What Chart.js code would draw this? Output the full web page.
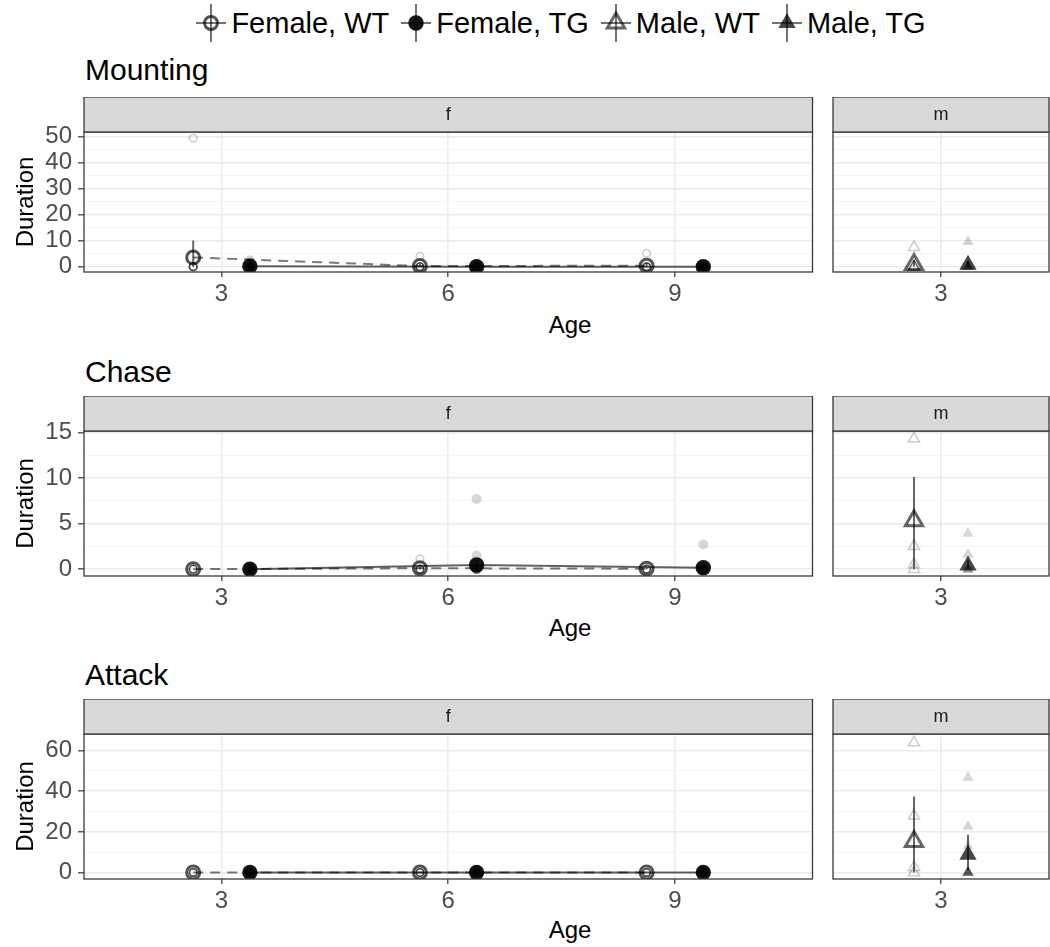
<!DOCTYPE html>
<html>
<head>
<meta charset="utf-8">
<title>Duration by age, sex and genotype</title>
<script src="https://cdn.jsdelivr.net/npm/chart.js@4.4.1/dist/chart.umd.min.js"></script>
<style>
  html, body { margin: 0; padding: 0; background: #ffffff; }
  #page { position: relative; width: 1050px; height: 947px; overflow: hidden;
          font-family: "Liberation Sans", Arial, Helvetica, sans-serif; }
  #page canvas { position: absolute; }
  .row-title { position: absolute; left: 85px; font-size: 30px; line-height: 30px; color: #000; white-space: nowrap; }
  .x-title { position: absolute; left: 84px; width: 972px; text-align: center; font-size: 24px; line-height: 24px; color: #000; }
  #legend { position: absolute; top: 5px; left: 0; width: 1122px; height: 36px; display: flex;
            justify-content: center; align-items: center; font-size: 29px; color: #000; white-space: nowrap; }
  .key { display: flex; align-items: center; margin: 0 6px; }
  .key svg { margin-right: 5px; }
</style>
</head>
<body>
<div id="page"><div id="legend"></div></div>
<script>
// ---------- data ----------
const ageTicks = [3, 6, 9];          // female facet ages (weeks)
const maleAgeTicks = [3];            // male facet ages
const seriesLabels = ['Female, WT', 'Female, TG', 'Male, WT', 'Male, TG'];
const behaviours = ['Mounting', 'Chase', 'Attack'];
const facetLabels = ['f', 'm'];

// Mounting
const mountingTicks = [0, 10, 20, 30, 40, 50];
const mountingMinor = [5, 15, 25, 35, 45];
const mountingRange = [-2.0, 51.8];
const mountingFemWT = [3.6, 0.3, 0.4];
const mountingFemWTLow = [0, 0, 0];
const mountingFemWTHigh = [10.1, 1.0, 1.3];
const mountingFemTG = [0.2, 0, 0];
const mountingFemTGLow = [0, 0, 0];
const mountingFemTGHigh = [0.8, 0, 0];
const mountingFemWTRaw = [[49.4, 0, 0, 0, 0, 0, 0], [4.0, 0, 0, 0, 0, 0, 0], [5.2, 0, 0, 0, 0, 0, 0]];
const mountingFemTGRaw = [[2.5, 0, 0, 0, 0, 0, 0], [0, 0, 0, 0, 0, 0], [0, 0, 0, 0, 0, 0]];
const mountingMaleWT = [0.9];
const mountingMaleWTLow = [0];
const mountingMaleWTHigh = [2.6];
const mountingMaleTG = [0.8];
const mountingMaleTGLow = [0];
const mountingMaleTGHigh = [2.2];
const mountingMaleWTRaw = [[7.5, 0, 0, 0, 0]];
const mountingMaleTGRaw = [[9.6, 0, 0, 0, 0]];

// Chase
const chaseTicks = [0, 5, 10, 15];
const chaseMinor = [2.5, 7.5, 12.5];
const chaseRange = [-0.75, 15.15];
const chaseFemWT = [0, 0.1, 0.05];
const chaseFemWTLow = [0, 0, 0];
const chaseFemWTHigh = [0, 0.3, 0.2];
const chaseFemTG = [0, 0.45, 0.15];
const chaseFemTGLow = [0, 0, 0];
const chaseFemTGHigh = [0, 1.0, 0.5];
const chaseFemWTRaw = [[0, 0, 0, 0, 0, 0], [1.1, 0, 0, 0, 0, 0], [0, 0, 0, 0, 0, 0]];
const chaseFemTGRaw = [[0, 0, 0, 0, 0, 0], [7.7, 1.5, 0, 0, 0, 0], [2.7, 0, 0, 0, 0, 0]];
const chaseMaleWT = [5.3];
const chaseMaleWTLow = [0];
const chaseMaleWTHigh = [10.1];
const chaseMaleTG = [0.4];
const chaseMaleTGLow = [0];
const chaseMaleTGHigh = [1.0];
const chaseMaleWTRaw = [[14.3, 2.5, 0.5, 0]];
const chaseMaleTGRaw = [[3.9, 1.6, 0, 0, 0]];

// Attack
const attackTicks = [0, 20, 40, 60];
const attackMinor = [10, 30, 50];
const attackRange = [-3.2, 68.2];
const attackFemWT = [0, 0, 0];
const attackFemWTLow = [0, 0, 0];
const attackFemWTHigh = [0, 0, 0];
const attackFemTG = [0, 0, 0];
const attackFemTGLow = [0, 0, 0];
const attackFemTGHigh = [0, 0, 0];
const attackFemWTRaw = [[0, 0, 0, 0, 0, 0], [0, 0, 0, 0, 0, 0], [0, 0, 0, 0, 0, 0]];
const attackFemTGRaw = [[0, 0, 0, 0, 0, 0], [0, 0, 0, 0, 0, 0], [0, 0, 0, 0, 0, 0]];
const attackMaleWT = [15.3];
const attackMaleWTLow = [0];
const attackMaleWTHigh = [37.4];
const attackMaleTG = [8.8];
const attackMaleTGLow = [1.0];
const attackMaleTGHigh = [18.6];
const attackMaleWTRaw = [[64, 27.9, 2.5, 0]];
const attackMaleTGRaw = [[46.8, 22.7, 13.1, 0, 0, 0, 0, 0, 0]];

// ---------- layout ----------
const FONT = '"Liberation Sans", Arial, Helvetica, sans-serif';
Chart.defaults.font.family = FONT;
Chart.defaults.color = '#4D4D4D';

const STRIP_H = 35, X_AXIS_H = 45, Y_AXIS_W = 84;
const F_RIGHT = 815, M_LEFT = 828, M_RIGHT = 1056;
const femaleXRange = [1.18, 10.82];
const maleXRange = [1.5, 4.5];
const DODGE = 0.375;

const rowLayout = [
  { stripTop: 97, panelBottom: 272, titleTop: 55, ageTop: 313 },
  { stripTop: 396, panelBottom: 576, titleTop: 357, ageTop: 616 },
  { stripTop: 699, panelBottom: 879, titleTop: 660, ageTop: 918 }
];

// marker looks for the four groups
const STYLE = {
  fWT: { shape: 'circle', r: 6.5, bw: 3, stroke: 'rgba(0,0,0,0.68)', fill: 'rgba(0,0,0,0)', line: 'rgba(0,0,0,0.52)', dash: [10, 7],
         rawR: 3.8, rawBw: 1.5, rawStroke: 'rgba(0,0,0,0.2)', rawFill: 'rgba(0,0,0,0)' },
  fTG: { shape: 'circle', r: 7.7, bw: 0, stroke: 'rgba(0,0,0,0)', fill: 'rgba(0,0,0,0.92)', line: 'rgba(0,0,0,0.62)', dash: [],
         rawR: 5, rawBw: 0, rawStroke: 'rgba(0,0,0,0)', rawFill: 'rgba(0,0,0,0.16)' },
  mWT: { shape: 'triangle', r: 10, bw: 3, stroke: 'rgba(0,0,0,0.6)', fill: 'rgba(0,0,0,0)', line: 'rgba(0,0,0,0.52)', dash: [],
         rawR: 6.5, rawBw: 1.5, rawStroke: 'rgba(0,0,0,0.2)', rawFill: 'rgba(0,0,0,0)' },
  mTG: { shape: 'triangle', r: 10, bw: 0, stroke: 'rgba(0,0,0,0)', fill: 'rgba(0,0,0,0.72)', line: 'rgba(0,0,0,0.62)', dash: [],
         rawR: 6.5, rawBw: 0, rawStroke: 'rgba(0,0,0,0)', rawFill: 'rgba(0,0,0,0.16)' }
};

// ---------- plugins ----------
// grey facet strip above the panel and the panel frame
const facetStrip = {
  id: 'facetStrip',
  afterDatasetsDraw(chart) {
    const { ctx, chartArea: a } = chart;
    ctx.save();
    ctx.strokeStyle = '#3a3a3a';
    ctx.lineWidth = 1.3;
    ctx.strokeRect(a.left, a.top, a.right - a.left, a.bottom - a.top);
    ctx.restore();
  },
  afterDraw(chart, args, opts) {
    const { ctx, chartArea: a } = chart;
    ctx.save();
    ctx.fillStyle = '#D9D9D9';
    ctx.fillRect(a.left, a.top - STRIP_H, a.right - a.left, STRIP_H);
    ctx.strokeStyle = '#3a3a3a';
    ctx.lineWidth = 1.3;
    ctx.strokeRect(a.left, a.top - STRIP_H, a.right - a.left, STRIP_H);
    ctx.fillStyle = '#1A1A1A';
    ctx.font = '18px ' + FONT;
    ctx.textAlign = 'center';
    ctx.textBaseline = 'middle';
    ctx.fillText(opts.label, (a.left + a.right) / 2, a.top - STRIP_H / 2 + 1);
    ctx.restore();
  }
};

// vertical interval bars drawn just under each group-mean dataset
const errorBars = {
  id: 'errorBars',
  beforeDatasetDraw(chart, args) {
    const ds = chart.data.datasets[args.index];
    if (!ds.errorLow) return;
    const xs = chart.scales.x, ys = chart.scales.y, ctx = chart.ctx;
    ctx.save();
    ctx.strokeStyle = ds.errorColor;
    ctx.lineWidth = 2;
    ds.data.forEach((p, i) => {
      const px = xs.getPixelForValue(p.x);
      ctx.beginPath();
      ctx.moveTo(px, ys.getPixelForValue(ds.errorLow[i]));
      ctx.lineTo(px, ys.getPixelForValue(ds.errorHigh[i]));
      ctx.stroke();
    });
    ctx.restore();
  }
};

// ---------- dataset builders ----------
function meanDataset(ages, shift, means, low, high, key) {
  const s = STYLE[key];
  return {
    data: ages.map((a, i) => ({ x: a + shift, y: means[i] })),
    showLine: ages.length > 1,
    borderColor: s.line, borderWidth: 2, borderDash: s.dash,
    pointStyle: s.shape, pointRadius: s.r, pointHoverRadius: s.r,
    pointBorderWidth: s.bw, pointBorderColor: s.stroke, pointBackgroundColor: s.fill,
    errorLow: low, errorHigh: high, errorColor: 'rgba(0,0,0,0.6)',
    order: 1
  };
}

function rawDataset(ages, shift, raw, key) {
  const s = STYLE[key];
  const pts = [];
  ages.forEach((a, i) => raw[i].forEach(v => pts.push({ x: a + shift, y: v })));
  return {
    data: pts,
    showLine: false,
    pointStyle: s.shape, pointRadius: s.rawR, pointHoverRadius: s.rawR,
    pointBorderWidth: s.rawBw, pointBorderColor: s.rawStroke, pointBackgroundColor: s.rawFill,
    order: 2
  };
}

// ---------- panel chart ----------
const page = document.getElementById('page');

function addCanvas(left, top, w, h) {
  const c = document.createElement('canvas');
  c.width = w; c.height = h;
  c.style.left = left + 'px'; c.style.top = top + 'px';
  c.style.width = w + 'px'; c.style.height = h + 'px';
  page.appendChild(c);
  return c;
}

function panelChart(cfg) {
  const minor = cfg.yMinor;
  const isMinor = v => minor.includes(v);
  return new Chart(cfg.canvas, {
    type: 'scatter',
    data: { datasets: cfg.datasets },
    options: {
      responsive: false, animation: false, devicePixelRatio: 1,
      layout: { padding: { top: STRIP_H, left: cfg.padLeft, right: cfg.padRight, bottom: 0 } },
      plugins: { legend: { display: false }, tooltip: { enabled: false }, facetStrip: { label: cfg.strip } },
      scales: {
        x: {
          type: 'linear', min: cfg.xRange[0], max: cfg.xRange[1],
          afterBuildTicks: s => { s.ticks = cfg.xTicks.map(v => ({ value: v })); },
          afterFit: s => { s.height = X_AXIS_H; },
          border: { display: false },
          grid: { color: '#EBEBEB', lineWidth: 1.6, drawTicks: true, tickLength: 5, tickColor: '#333333', tickWidth: 1.2 },
          ticks: { autoSkip: false, maxRotation: 0, padding: 3, color: '#4D4D4D', font: { size: 24 }, callback: v => String(v) }
        },
        y: {
          type: 'linear', min: cfg.yRange[0], max: cfg.yRange[1],
          afterBuildTicks: s => { s.ticks = cfg.yTicks.concat(minor).sort((a, b) => a - b).map(v => ({ value: v })); },
          afterFit: s => { s.width = cfg.yAxisWidth; },
          border: { display: false },
          grid: {
            color: c => (c.tick && isMinor(c.tick.value)) ? '#F4F4F4' : '#EBEBEB',
            lineWidth: c => (c.tick && isMinor(c.tick.value)) ? 0.9 : 1.6,
            drawTicks: cfg.showY, tickLength: 6,
            tickColor: c => (c.tick && isMinor(c.tick.value)) ? 'rgba(0,0,0,0)' : '#333333',
            tickWidth: 1.2
          },
          ticks: { display: cfg.showY, autoSkip: false, padding: 6, color: '#4D4D4D', font: { size: 24 },
                   callback: v => isMinor(v) ? '' : String(v) },
          title: { display: cfg.showY, text: 'Duration', color: '#000000', font: { size: 24 }, padding: { top: 12, bottom: 0 } }
        }
      }
    },
    plugins: [facetStrip, errorBars]
  });
}

// ---------- build the three behaviour rows ----------
const rowData = [
  { ticks: mountingTicks, minor: mountingMinor, range: mountingRange,
    fWT: [mountingFemWT, mountingFemWTLow, mountingFemWTHigh, mountingFemWTRaw],
    fTG: [mountingFemTG, mountingFemTGLow, mountingFemTGHigh, mountingFemTGRaw],
    mWT: [mountingMaleWT, mountingMaleWTLow, mountingMaleWTHigh, mountingMaleWTRaw],
    mTG: [mountingMaleTG, mountingMaleTGLow, mountingMaleTGHigh, mountingMaleTGRaw] },
  { ticks: chaseTicks, minor: chaseMinor, range: chaseRange,
    fWT: [chaseFemWT, chaseFemWTLow, chaseFemWTHigh, chaseFemWTRaw],
    fTG: [chaseFemTG, chaseFemTGLow, chaseFemTGHigh, chaseFemTGRaw],
    mWT: [chaseMaleWT, chaseMaleWTLow, chaseMaleWTHigh, chaseMaleWTRaw],
    mTG: [chaseMaleTG, chaseMaleTGLow, chaseMaleTGHigh, chaseMaleTGRaw] },
  { ticks: attackTicks, minor: attackMinor, range: attackRange,
    fWT: [attackFemWT, attackFemWTLow, attackFemWTHigh, attackFemWTRaw],
    fTG: [attackFemTG, attackFemTGLow, attackFemTGHigh, attackFemTGRaw],
    mWT: [attackMaleWT, attackMaleWTLow, attackMaleWTHigh, attackMaleWTRaw],
    mTG: [attackMaleTG, attackMaleTGLow, attackMaleTGHigh, attackMaleTGRaw] }
];

rowData.forEach((d, r) => {
  const L = rowLayout[r];
  const h = L.panelBottom - L.stripTop + X_AXIS_H;

  const title = document.createElement('div');
  title.className = 'row-title';
  title.style.top = L.titleTop + 'px';
  title.textContent = behaviours[r];
  page.appendChild(title);

  const age = document.createElement('div');
  age.className = 'x-title';
  age.style.top = L.ageTop + 'px';
  age.textContent = 'Age';
  page.appendChild(age);

  // female facet
  panelChart({
    canvas: addCanvas(0, L.stripTop, F_RIGHT + 7, h),
    padLeft: 0, padRight: 7, yAxisWidth: Y_AXIS_W, showY: true,
    xRange: femaleXRange, xTicks: ageTicks,
    yRange: d.range, yTicks: d.ticks, yMinor: d.minor, strip: facetLabels[0],
    datasets: [
      meanDataset(ageTicks, -DODGE, d.fWT[0], d.fWT[1], d.fWT[2], 'fWT'),
      meanDataset(ageTicks, DODGE, d.fTG[0], d.fTG[1], d.fTG[2], 'fTG'),
      rawDataset(ageTicks, -DODGE, d.fWT[3], 'fWT'),
      rawDataset(ageTicks, DODGE, d.fTG[3], 'fTG')
    ]
  });

  // male facet
  panelChart({
    canvas: addCanvas(M_LEFT - 8, L.stripTop, (M_RIGHT + 6) - (M_LEFT - 8), h),
    padLeft: 8, padRight: 6, yAxisWidth: 0, showY: false,
    xRange: maleXRange, xTicks: maleAgeTicks,
    yRange: d.range, yTicks: d.ticks, yMinor: d.minor, strip: facetLabels[1],
    datasets: [
      meanDataset(maleAgeTicks, -DODGE, d.mWT[0], d.mWT[1], d.mWT[2], 'mWT'),
      meanDataset(maleAgeTicks, DODGE, d.mTG[0], d.mTG[1], d.mTG[2], 'mTG'),
      rawDataset(maleAgeTicks, -DODGE, d.mWT[3], 'mWT'),
      rawDataset(maleAgeTicks, DODGE, d.mTG[3], 'mTG')
    ]
  });
});

// ---------- legend ----------
function keyGlyph(key) {
  const s = STYLE[key];
  let mark;
  if (s.shape === 'circle') {
    mark = `<circle cx="15" cy="20" r="${s.r}" fill="${s.fill}" stroke="${s.stroke}" stroke-width="${s.bw}"/>`;
  } else {
    const r = s.r, dx = r * Math.sin(Math.PI / 3), dy = r / 2;
    mark = `<polygon points="15,${20 - r} ${15 + dx},${20 + dy} ${15 - dx},${20 + dy}" fill="${s.fill}" stroke="${s.stroke}" stroke-width="${s.bw}"/>`;
  }
  return `<svg width="30" height="40" viewBox="0 0 30 40">
    <line x1="0" y1="20" x2="30" y2="20" stroke="rgba(0,0,0,0.55)" stroke-width="2"/>
    <line x1="15" y1="1" x2="15" y2="39" stroke="rgba(0,0,0,0.55)" stroke-width="2"/>
    ${mark}</svg>`;
}
const legend = document.getElementById('legend');
['fWT', 'fTG', 'mWT', 'mTG'].forEach((k, i) => {
  const item = document.createElement('div');
  item.className = 'key';
  item.innerHTML = keyGlyph(k) + '<span>' + seriesLabels[i] + '</span>';
  legend.appendChild(item);
});
</script>
</body>
</html>
